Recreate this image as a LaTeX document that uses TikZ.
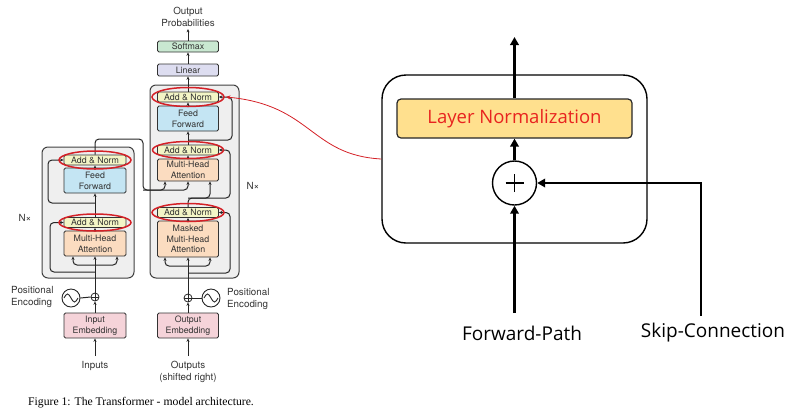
\documentclass[tikz,border=0pt]{standalone}
\usepackage{fontspec}
\setmainfont{TeX Gyre Heros}
\newfontfamily\osans{Open Sans}
\newfontfamily\tserif{Liberation Serif}
\usetikzlibrary{arrows.meta}
\definecolor{anfill}{HTML}{F3F5C6}
\definecolor{fffill}{HTML}{C4E5F3}
\definecolor{mhafill}{HTML}{FBDCC0}
\definecolor{linfill}{HTML}{DDDDF0}
\definecolor{smxfill}{HTML}{C9E8D1}
\definecolor{embfill}{HTML}{F5D3D9}
\definecolor{layfill}{HTML}{EFEFEF}
\definecolor{redl}{HTML}{D42026}
\definecolor{lnfill}{HTML}{FFE08E}
\definecolor{lntext}{HTML}{E8231F}
\begin{document}
\begin{tikzpicture}[x=1pt,y=-1pt,
  tbox/.style={draw=black!80, line width=0.8pt, rounded corners=1.5pt, minimum width=61pt,
    align=center, font=\fontsize{8.8}{10.8}\selectfont, text=black!80, inner sep=0pt},
  an/.style={tbox, fill=anfill, minimum height=10pt},
  ffb/.style={tbox, fill=fffill, minimum height=25pt},
  mhab/.style={tbox, fill=mhafill},
  embb/.style={tbox, fill=embfill, minimum height=25pt},
  layer/.style={draw=black!75, line width=1pt, fill=layfill, rounded corners=6pt, inner sep=0pt},
  conn/.style={draw=black!85, line width=1pt, rounded corners=4pt},
  arr/.style={-{Stealth[length=3.4pt,width=3pt]}},
  lbl/.style={font=\fontsize{9.8}{12}\selectfont, text=black!80, align=center, inner sep=0pt},
  redell/.style={draw=redl, line width=1.5pt},
  big/.style={-{Triangle[length=8pt,width=8.5pt]}, line width=2.8pt},
  plab/.style={font=\osans\fontsize{19}{21}\selectfont, inner sep=0pt}
]
\useasboundingbox (0,0) rectangle (799,416);

% ---------- layer frames ----------
\node[layer, minimum width=92pt, minimum height=131pt] (enc) at (88,212.5) {};
\node[layer, minimum width=89pt, minimum height=193pt] (dec) at (194.5,181.5) {};

% ---------- encoder boxes ----------
\node[an, minimum width=62pt] (ean2) at (95,160) {Add \& Norm};
\node[ffb, minimum width=62pt] (eff) at (95,180.5) {Feed\\Forward};
\node[an, minimum width=62pt] (ean1) at (95,222.5) {Add \& Norm};
\node[mhab, minimum width=62pt, minimum height=25pt] (emha) at (95,243.5) {Multi-Head\\Attention};
\node[embb, minimum width=62pt] (eemb) at (95,325.5) {Input\\Embedding};
\node[circle, draw=black!85, line width=0.8pt, minimum size=8pt, inner sep=0pt] (eadd) at (95,297) {};
\node[circle, draw=black!85, line width=0.9pt, minimum size=18pt, inner sep=0pt] (epe) at (71,298) {};

% ---------- decoder boxes ----------
\node[tbox, fill=smxfill, minimum height=11pt] (smx) at (188,46.5) {Softmax};
\node[tbox, fill=linfill, minimum height=12pt] (lin) at (188,70) {Linear};
\node[an] (dan3) at (188,97) {Add \& Norm};
\node[ffb] (dff) at (188,118.5) {Feed\\Forward};
\node[an] (dan2) at (188,150) {Add \& Norm};
\node[mhab, minimum height=22pt] (dmha) at (188,170) {Multi-Head\\Attention};
\node[an] (dan1) at (188,212.5) {Add \& Norm};
\node[mhab, minimum height=36pt] (dmm) at (188,239) {Masked\\Multi-Head\\Attention};
\node[embb] (demb) at (188,325.5) {Output\\Embedding};
\node[circle, draw=black!85, line width=0.8pt, minimum size=8pt, inner sep=0pt] (dadd) at (188,298) {};
\node[circle, draw=black!85, line width=0.9pt, minimum size=18pt, inner sep=0pt] (dpe) at (211,298) {};

% plus signs and sine waves
\draw[line width=0.7pt, black!85] (eadd.north) -- (eadd.south) (eadd.west) -- (eadd.east);
\draw[line width=0.7pt, black!85] (dadd.north) -- (dadd.south) (dadd.west) -- (dadd.east);
\draw[line width=0.9pt, black!85, shift={(epe.center)}] (-7,0) sin (-3.5,-4) cos (0,0) sin (3.5,4) cos (7,0);
\draw[line width=0.9pt, black!85, shift={(dpe.center)}] (-7,0) sin (-3.5,-4) cos (0,0) sin (3.5,4) cos (7,0);
\draw[conn] (epe.east) -- (eadd.west);
\draw[conn] (dpe.west) -- (dadd.east);

% ---------- labels ----------
\node[lbl] (outp) at (188,16.5) {Output\\Probabilities};
\coordinate (outtip) at (188,29);
\node[lbl, anchor=west, align=left] (epel) at (11,297) {Positional\\Encoding};
\node[lbl, anchor=west, align=left] (dpel) at (227,299) {Positional\\Encoding};
\node[lbl] (inl) at (95,366) {Inputs};
\node[lbl] (outl) at (188,372) {Outputs\\(shifted right)};
\coordinate (inbot) at (95,356);
\coordinate (outbot) at (188,356);
\node[lbl] (encn) at (25,218) {N×};
\node[lbl] (decn) at (253,186) {N×};
\node[font=\tserif\fontsize{11.7}{13}\selectfont, inner sep=0pt] (cap) at (141,403) {Figure 1: The Transformer - model architecture.};

% ---------- encoder connectors ----------
\coordinate (eb) at (95,265);
\coordinate (er1) at (95,272);
\coordinate (er2) at (95,203);
\draw[conn,arr] (inbot) -- (eemb.south);
\draw[conn,arr] (eemb.north) -- (eadd.south);
\draw[conn,arr] (eadd.north) -- (emha.south);
\draw[conn,arr] (eb) -| ([xshift=-22pt]emha.south);
\draw[conn,arr] (eb) -| ([xshift=22pt]emha.south);
\draw[conn,arr] (er1) -- (50,272) |- (ean1.west);
\draw[conn,arr] (emha.north) -- (ean1.south);
\draw[conn,arr] (ean1.north) -- (eff.south);
\draw[conn,arr] (er2) -- (48,203) |- (ean2.west);
\draw[conn,arr] (eff.north) -- (ean2.south);
\draw[conn,arr] (ean2.north) |- (143,139) -- (143,190) -| ([xshift=-23pt]dmha.south);
\draw[conn,arr] (143,190) -| (dmha.south);

% ---------- decoder connectors ----------
\coordinate (db) at (188,266);
\coordinate (dr1) at (188,273);
\coordinate (dq) at (188,198);
\coordinate (dr3) at (188,140);
\draw[conn,arr] (outbot) -- (demb.south);
\draw[conn,arr] (demb.north) -- (dadd.south);
\draw[conn,arr] (dadd.north) -- (dmm.south);
\draw[conn,arr] (db) -| ([xshift=-23pt]dmm.south);
\draw[conn,arr] (db) -| ([xshift=22pt]dmm.south);
\draw[conn,arr] (dr1) -- (230,273) |- (dan1.east);
\draw[conn,arr] (dmm.north) -- (dan1.south);
\draw[conn,arr] (dan1.north) -- (dq) -- (230,198) |- (dan2.east);
\draw[conn,arr] (dq) -| ([xshift=22pt]dmha.south);
\draw[conn,arr] (dmha.north) -- (dan2.south);
\draw[conn,arr] (dan2.north) -- (dff.south);
\draw[conn,arr] (dr3) -- (232,140) |- (dan3.east);
\draw[conn,arr] (dff.north) -- (dan3.south);
\draw[conn,arr] (dan3.north) -- (lin.south);
\draw[conn,arr] (lin.north) -- (smx.south);
\draw[conn,arr] (smx.north) -- (outtip);

% ---------- red highlight ellipses ----------
\draw[redell] (dan3.center) ellipse [x radius=36, y radius=9.5];
\draw[redell] (dan2.center) ellipse [x radius=35.5, y radius=8.5];
\draw[redell] (dan1.center) ellipse [x radius=36, y radius=9];
\draw[redell] (ean2.center) ellipse [x radius=36, y radius=9];
\draw[redell] (ean1.center) ellipse [x radius=36, y radius=8.5];

% ---------- right block ----------
\node[draw=black, line width=1.4pt, rounded corners=24pt, minimum width=265pt, minimum height=168pt, inner sep=0pt] (blk) at (514.5,159) {};
\node[draw=black!85, line width=1.2pt, fill=lnfill, rounded corners=4pt, minimum width=235pt, minimum height=39pt, inner sep=0pt,
  font=\osans\fontsize{18.5}{20}\selectfont, text=lntext] (ln) at (514.5,118.5) {Layer Normalization};
\node[circle, draw=black, line width=1.4pt, minimum size=44pt, inner sep=0pt] (pl) at (514.5,183) {};
\draw[line width=1.8pt] ([yshift=-9pt]pl.center) -- ([yshift=9pt]pl.center) ([xshift=-9pt]pl.center) -- ([xshift=9pt]pl.center);
\coordinate (toptip) at (514.5,37);
\coordinate (fpb) at (514.5,313);
\coordinate (skb) at (701,316);
\draw[big] (ln.north) -- (toptip);
\draw[big] (pl.north) -- (ln.south);
\draw[big] (fpb) -- (pl.south);
\draw[big] (skb) |- (pl.east);
\node[plab] (fpl) at (522,333) {Forward-Path};
\node[plab] (skl) at (713,333) {Skip-Connection};

% red connector
\draw[redl, line width=0.8pt, -{Stealth[length=4.5pt,width=4pt]}] (blk.west) .. controls (310,155) and (312,105) .. ([xshift=7pt]dan3.east);
\end{tikzpicture}
\end{document}
